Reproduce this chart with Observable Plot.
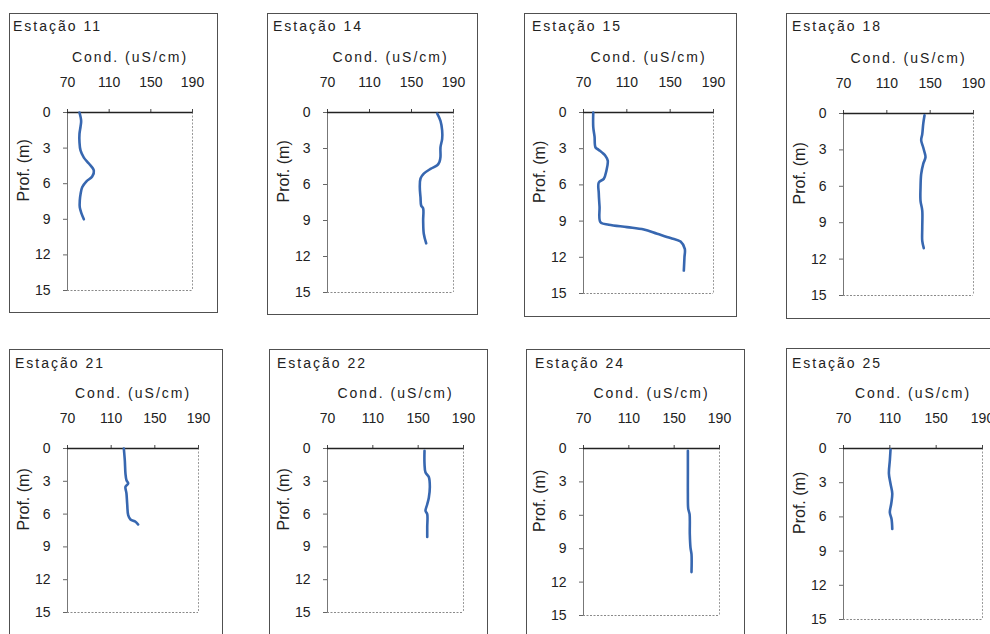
<!DOCTYPE html>
<html>
<head>
<meta charset="utf-8">
<script src="https://cdn.jsdelivr.net/npm/d3@7"></script>
<script src="https://cdn.jsdelivr.net/npm/@observablehq/plot@0.6"></script>
<style>
  body { margin: 0; background: #fff; }
  #page { position: relative; width: 990px; height: 634px; overflow: hidden; background: #fff;
          font-family: "Liberation Sans", Arial, sans-serif; color: #222; }
  .box { position: absolute; border: 1px solid #505050; box-sizing: border-box; }
  .title { position: absolute; font-size: 14px; line-height: 16px; letter-spacing: 2px; white-space: nowrap; }
  .chart { position: absolute; }
</style>
</head>
<body>
<div id="page"></div>
<script>
// Conductivity profiles: each row is [depth (m), conductivity (uS/cm)]
const stations = ["Estação 11", "Estação 14", "Estação 15", "Estação 18",
                  "Estação 21", "Estação 22", "Estação 24", "Estação 25"];
const xTicks = [70, 110, 150, 190];
const yTicks = [0, 3, 6, 9, 12, 15];
const xLabel = "Cond. (uS/cm)";
const yLabel = "Prof. (m)";

const est11 = [[0, 81.5], [0.7, 83.1], [1.2, 82.5], [1.8, 81.5], [2.5, 81.5], [3.2, 82.5], [3.8, 85.7],
               [4.3, 90.5], [4.9, 95.3], [5.4, 93.7], [5.8, 88.2], [6.3, 84.1], [6.9, 82.5], [7.4, 81.8],
               [8.0, 81.8], [8.5, 83.4], [9.0, 85.7]];
const est14 = [[0.1, 174.5], [0.7, 177.6], [1.5, 179.2], [2.2, 179.2], [2.9, 177.6], [3.7, 177.6], [4.1, 176.7],
               [4.4, 174.5], [4.7, 168.1], [5.1, 161.7], [5.5, 158.6], [6.2, 157.9], [7.1, 158.6], [7.75, 159.2],
               [8.0, 161.1], [9.0, 161.1], [10.1, 161.7], [10.9, 164.0]];
const est15 = [[0, 79.0], [1.2, 79.0], [2.0, 80.2], [2.9, 81.1], [3.1, 84.1], [3.6, 90.3], [4.0, 92.4],
               [4.8, 91.2], [5.5, 88.7], [5.8, 84.1], [6.7, 84.1], [7.8, 84.8], [9.1, 85.7], [9.3, 93.4],
               [9.5, 110.3], [9.7, 125.7], [10.05, 138.0], [10.4, 150.3], [10.7, 159.6], [11.3, 163.5],
               [12.0, 163.2], [13.1, 162.6]];
const est18 = [[0.15, 144.8], [0.85, 143.6], [1.7, 142.7], [2.2, 141.7], [2.8, 143.6], [3.2, 144.8], [3.6, 145.7],
               [4.15, 143.6], [5.0, 141.7], [6.1, 141.1], [7.2, 141.1], [8.0, 142.7], [9.4, 142.7], [10.5, 142.7],
               [11.1, 144.1]];
const est21 = [[0, 121.6], [1.1, 122.5], [2.3, 123.1], [2.9, 124.0], [3.2, 125.6], [3.5, 123.1], [4.1, 124.0],
               [5.1, 124.7], [6.1, 125.6], [6.5, 127.7], [6.7, 132.3], [6.95, 134.7]];
const est22 = [[0.2, 155.6], [1.4, 155.6], [2.2, 156.5], [2.6, 159.4], [3.5, 160.3], [4.5, 159.4], [5.1, 158.0],
               [5.7, 156.5], [6.0, 158.0], [7.2, 158.0], [8.1, 158.0]];
const est24 = [[0.2, 162.1], [2.3, 162.1], [4.1, 162.1], [5.4, 162.4], [5.9, 163.6], [7.7, 163.8], [8.9, 164.4],
               [9.5, 165.3], [11.1, 165.3]];
const est25 = [[0.1, 110.6], [1.05, 110.0], [2.2, 109.2], [3.1, 110.6], [3.95, 112.1], [4.85, 111.2], [5.6, 110.0],
               [6.2, 111.5], [7.05, 112.1]];

const profiles = [est11, est14, est15, est18, est21, est22, est24, est25];

// Page layout of each panel: outer box, plot frame [left, top, right, bottom] and title anchor
const layout = [
  {box: [9, 13, 218, 313],   frame: [67, 112, 192, 290],  title: [13, 26]},
  {box: [267, 13, 478, 315], frame: [327, 112, 453, 292], title: [273, 26]},
  {box: [524, 13, 737, 317], frame: [583, 112, 713, 293], title: [532, 26]},
  {box: [786, 13, 1000, 319], frame: [843, 113, 973, 295], title: [792, 26]},
  {box: [9, 349, 223, 640],  frame: [67, 448, 198, 612],  title: [15, 363]},
  {box: [269, 349, 488, 640], frame: [327, 448, 463, 612], title: [277, 363]},
  {box: [526, 349, 745, 640], frame: [583, 448, 719, 615], title: [535, 363]},
  {box: [786, 348, 1000, 640], frame: [843, 448, 982, 619], title: [792, 363]}
];

const FONT = "'Liberation Sans', Arial, sans-serif";
const page = document.getElementById("page");

function drawPanel(name, rows, lay) {
  const [bl, bt, br, bb] = lay.box;
  const box = document.createElement("div");
  box.className = "box";
  Object.assign(box.style, {left: bl + "px", top: bt + "px", width: (br - bl) + "px", height: (bb - bt) + "px"});
  page.appendChild(box);

  const title = document.createElement("div");
  title.className = "title";
  title.textContent = name;
  Object.assign(title.style, {left: lay.title[0] + "px", top: (lay.title[1] - 8) + "px"});
  page.appendChild(title);

  const [fl, ft, fr, fb] = lay.frame;
  const ML = 62, MT = 96, MR = 14, MB = 12;
  const data = rows.map(([depth, cond]) => ({depth, cond}));

  const svg = Plot.plot({
    width: ML + (fr - fl) + MR,
    height: MT + (fb - ft) + MB,
    marginLeft: ML, marginTop: MT, marginRight: MR, marginBottom: MB,
    style: {fontFamily: FONT, fontSize: "14px", color: "#222", background: "transparent", overflow: "visible"},
    x: {domain: [70, 190]},
    y: {domain: [0, 15], reverse: true},
    marks: [
      Plot.ruleX([190], {stroke: "#9a9a9a", strokeDasharray: "2,1.5"}),
      Plot.ruleY([15], {stroke: "#8a8a8a", strokeDasharray: "2,1.5"}),
      Plot.ruleX([70], {stroke: "#777"}),
      Plot.axisY({ticks: yTicks, tickSize: 4, tickPadding: 13, label: null, stroke: "#666", fill: "#222"}),
      Plot.axisX({anchor: "top", ticks: xTicks, tickSize: 4, tickPadding: 22, label: null, stroke: "#444", fill: "#222"}),
      Plot.ruleY([0], {stroke: "#222", strokeWidth: 1.5}),
      Plot.line(data, {x: "cond", y: "depth", stroke: "#3767b0", strokeWidth: 2.6, curve: "catmull-rom"}),
      Plot.text([xLabel], {frameAnchor: "top", dy: -60, text: d => d, fill: "#222"}),
      Plot.text([yLabel], {frameAnchor: "left", dx: -44, rotate: -90, text: d => d, fontSize: 16, fill: "#222"})
    ]
  });
  svg.querySelectorAll("text").forEach(t => {
    if (t.textContent === xLabel) t.setAttribute("letter-spacing", "2");
  });
  svg.classList.add("chart");
  svg.style.position = "absolute";
  svg.style.left = (fl - ML) + "px";
  svg.style.top = (ft - MT) + "px";
  page.appendChild(svg);
}

stations.forEach((name, i) => drawPanel(name, profiles[i], layout[i]));
</script>
</body>
</html>
